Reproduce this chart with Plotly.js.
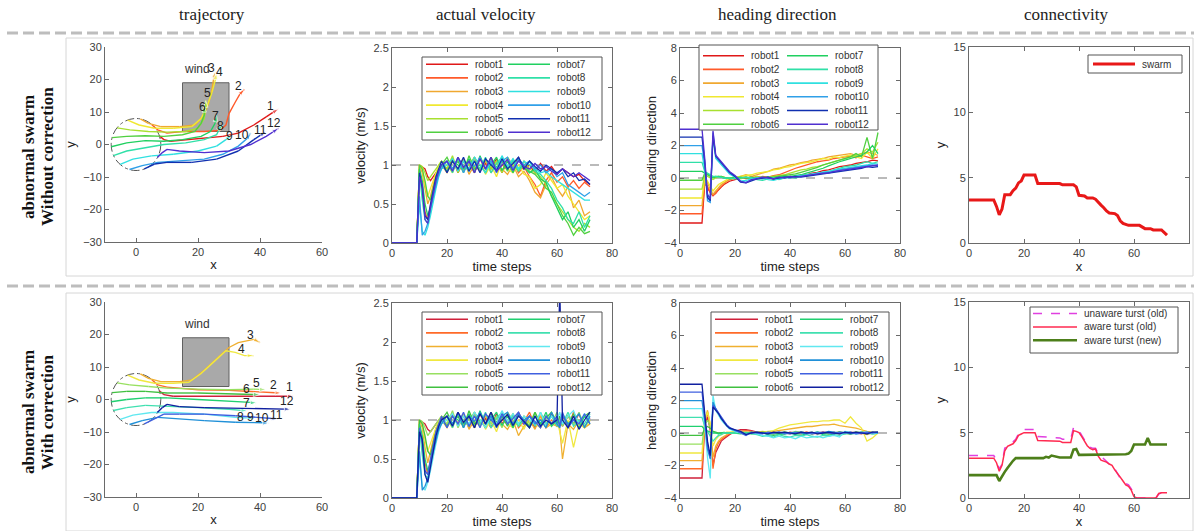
<!DOCTYPE html>
<html><head><meta charset="utf-8">
<script src="https://cdn.plot.ly/plotly-3.0.1.min.js"></script>
<style>html,body{margin:0;padding:0;background:#fff;}#chart{width:1194px;height:531px;}</style>
</head><body><div id="chart"></div>
<script>
// ---------------- DATA ----------------
const robotNames = ['robot1','robot2','robot3','robot4','robot5','robot6','robot7','robot8','robot9','robot10','robot11','robot12'];
const robotLabels = ['1','2','3','4','5','6','7','8','9','10','11','12'];
const colHeaders = ['trajectory','actual velocity','heading direction','connectivity'];
const rowHeadersLine1 = ['abnormal swarm','abnormal swarm'];
const rowHeadersLine2 = ['Without correction','With correction'];

// trajectories (without correction)
const trajTopX = [
 [7.5,9,11,16,22,28,33,38,42,46],
 [5.1,7,10,15,22,27,29,30,32,33.5,35],
 [1.4,4,8,14,19,22,23.5,24.5,25,25.5],
 [-2.7,1,6,12,18,21,23,24.5,25.5,26],
 [-6.1,-2,4,10,16,20,22,22.5,22.5],
 [-7.7,-3,3,9,15,19,21,22,22],
 [-8,-3,3,9,15,21,24,25.5,26],
 [-7.3,-3,3,9,16,22,26,27,28],
 [-5.1,-1,5,12,20,26,29,31],
 [-2.1,2,7,14,22,28,33,36,37],
 [2.7,6,10,18,26,33,38,42],
 [6.9,8.5,10,14,22,30,37,42,46]];
const trajTopY = [
 [2.7,1.5,1,1.5,2,2.5,3.5,6,8.5,11],
 [6.1,4.5,3.5,4,4,4.3,6,9.5,13,15.5,17],
 [7.9,6.5,5.5,5.5,6,9,13,17,20,22.5],
 [7.5,6,5,5,5.5,8,12,16,19.5,22],
 [5.1,4.5,4,3.8,4,5,8,11,13.5],
 [2.1,2.5,2.7,2.5,3,4,6.5,9,12],
 [-0.7,0.5,1.2,1,1.5,2.5,4,6.5,9],
 [-3.4,-2,-1,0,0.5,1.5,3,5,6],
 [-6.1,-4.5,-3.5,-3,-2,-0.5,1.5,3],
 [-7.7,-6.5,-5.5,-5,-4.5,-3,-0.5,2,3.5],
 [-7.5,-6,-5.5,-5.5,-4.5,-2,1.5,4],
 [-4,-2.5,-1.5,-2,-2.5,-2,0,2.5,5]];
const trajTopLabelX = [43.4,33,24.3,26.9,23.2,21.4,25.7,27.1,30.3,34.1,40,44.6];
const trajTopLabelY = [11.9,17.9,23.6,22.4,15.8,11.6,8.9,5.6,2.7,3.0,4.4,6.5];

// trajectories (with correction)
const trajBotX = [
 [7.5,9,12,20,30,40,48,51],
 [5.1,7,10,20,30,40,47],
 [1.4,4,8,14,18,22,26,30,33,36,38,40],
 [-2.7,1,6,12,17,21,25,29,32,35,38],
 [-6.1,-2,4,10,20,30,38,42],
 [-7.7,-3,3,10,20,30,36,40],
 [-8,-3,3,10,20,30,36,39],
 [-7.3,-3,3,10,20,30,36],
 [-5.1,-1,5,12,22,32,38],
 [-2.1,2,7,14,22,32,40,43],
 [2.7,6,9,14,22,32,40,46],
 [6.9,8.5,10,14,22,32,42,50]];
const trajBotY = [
 [2.7,1.5,1,1,0.8,0.8,1,1],
 [6.1,4.5,3.8,3,2.8,2.2,2],
 [7.9,6.5,5.5,5.5,6,9,12.5,16,17.5,18,18.5,17.5],
 [7.5,6,5,5,5.3,8,11.5,15,14.5,13.5,13.5],
 [5.1,4.5,4,3.5,3.2,3,3.2,3],
 [2.1,2.5,2.5,2,2,1.8,1.6,1.5],
 [-0.7,0,0.5,0.5,0,-0.5,-1,-1],
 [-3.4,-2.5,-1.8,-2,-2.5,-3,-3.5],
 [-6.1,-4.8,-4,-4,-4.5,-5.5,-5.8],
 [-7.7,-6.5,-5.5,-6,-6.5,-7,-7.3,-7.2],
 [-7.5,-6,-4.5,-4.5,-4.5,-5,-5.5,-6],
 [-4,-2.5,-1.5,-2.2,-2.5,-2.7,-2.8,-3]];
const trajBotLabelX = [49.6,44.4,36.8,34.1,38.8,35.5,35.5,33.6,36.8,40.6,45.3,48.6];
const trajBotLabelY = [3.8,4.4,19.8,15.4,5.0,3.2,-1.1,-5.4,-5.4,-5.8,-4.8,-0.5];

const windBoxX = [15,30];
const windBoxY = [4,19];
const windLabel = {text:'wind', x:19.6, y:20.6};
const startCircleR = 8;

// velocity (without correction)
const tVelTop = [0,9,10,11,12,13,14,15,16,17,18, 20,22,24,26,28,30,32,34,36, 38,40,42,44,46,48,50,52,54, 56,58,60,62,64,66,68,70,72];
const velTop = [
 [0,0,1.0,0.98,0.95,0.85,0.8,0.85,0.9,0.95,1.0, 0.95,1.08,0.9,1.05,0.95,1.1,0.92,1.02,0.95, 1.08,0.9,1.05,0.97,1.1,0.95,1.0,0.9,1.02, 0.92,0.98,0.88,0.95,0.9,0.85,0.88,0.8,0.75],
 [0,0,0.95,0.7,0.4,0.3,0.5,0.7,0.85,0.95,1.0, 1.05,0.92,1.1,0.95,1.02,0.9,1.08,0.95,1.1, 0.9,1.0,0.95,1.05,0.9,0.98,0.85,0.75,0.6, 0.8,0.9,0.78,0.85,0.72,0.8,0.7,0.78,0.72],
 [0,0,1.0,0.9,0.7,0.5,0.6,0.75,0.9,0.95,1.0, 0.9,1.05,0.95,1.08,0.88,1.0,0.92,1.05,0.9, 1.02,0.95,0.88,1.0,0.85,0.92,0.8,0.65,0.58, 0.75,0.85,0.7,0.6,0.72,0.45,0.55,0.35,0.4],
 [0,0,1.0,0.95,0.75,0.6,0.7,0.8,0.9,1.0,1.05, 1.0,0.9,1.1,0.92,1.05,0.95,1.1,0.88,1.0, 0.85,1.05,0.95,0.9,1.0,0.88,0.85,0.7,0.75, 0.9,0.8,0.7,0.75,0.6,0.5,0.4,0.3,0.35],
 [0,0,1.0,0.98,0.9,0.8,0.85,0.9,0.95,1.0,1.05, 0.95,1.12,0.9,1.05,1.0,1.1,0.92,1.08,0.95, 1.05,0.9,1.1,1.0,0.92,1.05,0.95,0.9,0.85, 0.75,0.6,0.5,0.4,0.3,0.2,0.15,0.25,0.2],
 [0,0,1.0,0.95,0.8,0.6,0.55,0.7,0.85,0.95,1.0, 1.1,0.95,1.05,0.9,1.12,0.95,1.0,0.9,1.1, 0.97,1.05,0.92,1.08,0.95,1.0,0.92,0.88,0.8, 0.7,0.65,0.5,0.35,0.25,0.1,0.2,0.12,0.15],
 [0,0,0.95,0.8,0.5,0.35,0.45,0.65,0.8,0.92,1.0, 0.92,1.05,1.0,0.95,1.08,0.9,1.12,0.95,1.0, 1.1,0.93,1.05,0.9,1.08,0.97,0.9,0.95,0.82, 0.78,0.6,0.45,0.3,0.4,0.2,0.3,0.15,0.3],
 [0,0,0.9,0.55,0.3,0.25,0.4,0.6,0.75,0.9,0.98, 1.05,0.9,1.08,1.0,0.92,1.05,0.95,1.1,0.9, 1.02,1.1,0.95,1.05,0.92,1.0,1.05,0.92,0.88, 0.8,0.7,0.55,0.45,0.3,0.25,0.4,0.2,0.35],
 [0,0,0.5,0.15,0.1,0.2,0.35,0.55,0.7,0.85,0.95, 1.0,1.08,0.92,1.05,0.95,1.1,1.0,0.9,1.05, 0.95,1.12,0.98,1.08,0.95,1.05,1.0,0.95,0.9, 0.92,0.85,0.8,0.75,0.7,0.65,0.6,0.55,0.55],
 [0,0,0.6,0.1,0.15,0.25,0.45,0.6,0.75,0.88,0.95, 1.05,0.95,1.1,0.9,1.05,0.98,1.1,0.95,1.05, 0.9,1.05,1.1,0.95,1.08,1.0,1.05,0.95,1.0, 0.9,0.95,0.85,0.9,0.75,0.7,0.65,0.6,0.65],
 [0,0,0.9,0.7,0.35,0.3,0.5,0.7,0.85,0.95,1.05, 0.9,1.05,0.95,1.1,0.92,1.05,0.9,1.08,1.0, 0.93,1.08,0.95,1.02,1.1,0.95,1.05,0.98,0.92, 1.0,0.95,0.9,0.95,0.85,0.9,0.8,0.82,0.75],
 [0,0,0.85,0.75,0.3,0.25,0.45,0.65,0.8,0.92,1.0, 1.05,0.92,1.1,0.97,1.05,0.9,1.08,0.95,1.1, 0.92,1.0,1.07,0.93,1.05,0.98,0.95,1.02,0.95, 0.98,0.92,0.88,0.95,0.9,0.85,0.9,0.85,0.8]];

// velocity (with correction)
const tVelBot = [0,9,10,11,12,13,14,15,16,17,18, 20,22,24,26,28,30,32,34,36, 38,40,42,44,46,48,50,52,54, 56,58,60,61,62,64,66,68,70,72];
const velBot = [
 [0,0,1.0,0.98,0.95,0.88,0.85,0.9,0.95,1.0,1.02, 0.92,1.08,0.95,1.05,0.9,1.1,0.95,1.02,0.9, 1.08,0.95,1.05,0.92,1.1,0.95,1.0,0.9,1.05, 0.92,1.08,0.95,1.0,0.92,1.05,0.95,1.08,0.9,1.02],
 [0,0,0.95,0.7,0.45,0.3,0.5,0.72,0.88,0.97,1.0, 1.05,0.92,1.1,0.95,1.02,0.9,1.08,0.95,1.1, 0.9,1.0,0.95,1.08,0.9,0.98,1.1,0.92,1.05, 0.9,1.0,0.92,0.95,1.05,0.9,1.1,0.95,1.05,0.98],
 [0,0,1.0,0.9,0.65,0.45,0.6,0.75,0.9,0.95,1.0, 0.9,1.05,0.95,1.08,0.88,1.0,0.92,1.05,0.9, 1.02,0.95,0.88,1.0,0.8,0.92,1.0,0.88,1.05, 0.9,0.95,0.92,0.9,0.5,0.95,0.88,1.0,0.9,0.95],
 [0,0,1.0,0.95,0.75,0.6,0.7,0.8,0.9,1.0,1.05, 1.0,0.9,1.1,0.92,1.05,0.95,1.1,0.88,1.0, 0.85,1.05,0.95,0.9,1.0,0.88,1.05,0.95,0.9, 1.0,0.92,1.0,0.85,0.7,1.0,0.65,0.95,0.9,1.0],
 [0,0,1.0,0.98,0.9,0.8,0.85,0.9,0.95,1.0,1.05, 0.95,1.12,0.9,1.05,1.0,1.1,0.92,1.08,0.95, 1.05,0.9,1.1,1.0,0.92,1.05,0.95,1.1,0.92, 1.05,0.95,1.1,1.0,0.92,1.05,0.95,1.1,0.92,1.0],
 [0,0,1.0,0.95,0.8,0.6,0.55,0.7,0.85,0.95,1.0, 1.1,0.95,1.05,0.9,1.12,0.95,1.0,0.9,1.1, 0.97,1.05,0.92,1.08,0.95,1.0,0.92,1.1,0.95, 1.02,1.1,0.95,1.05,1.0,0.92,1.08,0.95,1.05,1.1],
 [0,0,0.95,0.8,0.5,0.35,0.45,0.65,0.8,0.92,1.0, 0.92,1.05,1.0,0.95,1.08,0.9,1.12,0.95,1.0, 1.1,0.93,1.05,0.9,1.08,0.97,0.9,1.05,0.95, 1.1,0.92,1.0,0.95,1.08,0.95,1.0,0.9,1.05,0.95],
 [0,0,0.9,0.55,0.3,0.25,0.4,0.6,0.75,0.9,0.98, 1.05,0.9,1.08,1.0,0.92,1.05,0.95,1.1,0.9, 1.02,1.1,0.95,1.05,0.92,1.0,1.05,0.92,1.1, 0.95,1.05,0.92,1.0,0.95,1.1,0.92,1.0,0.95,1.08],
 [0,0,0.5,0.15,0.1,0.2,0.35,0.55,0.7,0.85,0.95, 1.0,1.08,0.92,1.05,0.95,1.1,1.0,0.9,1.05, 0.95,1.12,0.98,1.08,0.95,1.05,1.0,0.95,1.1, 0.92,1.05,1.0,1.1,0.95,1.05,1.12,0.95,1.08,1.0],
 [0,0,0.6,0.1,0.15,0.25,0.45,0.6,0.75,0.88,0.95, 1.05,0.95,1.1,0.9,1.05,0.98,1.1,0.95,1.05, 0.9,1.05,1.1,0.95,1.08,1.0,1.05,0.95,1.0, 0.9,1.1,0.95,0.9,1.05,0.95,1.0,1.08,0.9,1.05],
 [0,0,0.9,0.7,0.35,0.3,0.5,0.7,0.85,0.95,1.05, 0.9,1.05,0.95,1.1,0.92,1.05,0.9,1.08,1.0, 0.93,1.08,0.95,1.02,1.1,0.95,1.05,0.98,0.9, 1.05,0.95,1.05,0.92,1.1,0.9,1.0,0.95,1.08,0.95],
 [0,0,0.85,0.75,0.3,0.2,0.4,0.6,0.8,0.92,1.0, 1.05,0.92,1.1,0.97,1.05,0.9,1.08,0.95,1.1, 0.92,1.0,1.07,0.93,1.05,0.98,0.9,1.05,0.92, 1.0,0.95,1.0,2.7,1.0,0.9,1.05,0.88,1.0,1.1]];
const velRef = 1;

// heading direction
const tHead = [0,8,9,10,11,12,13,14,15,16,17,18, 20,22,24,26,28,30,32,34,36, 38,40,42,44,46,48,50,52,54, 56,58,60,62,64,66,68,70,72];
const headTop = [
 [-2.77,-2.77,-0.3,-0.6,-0.9,-1.1,-0.9,-0.7,-0.55,-0.4,-0.3,-0.2, -0.1,0,0.05,-0.05,0.1,0,0.05,-0.1,0.05, 0,0.1,0.05,0.15,0.2,0.3,0.35,0.45,0.5, 0.6,0.7,0.75,0.8,0.9,0.95,1.0,1.1,1.05],
 [-2.2,-2.2,-0.2,-0.5,-0.85,-1.05,-0.95,-0.7,-0.5,-0.35,-0.2,-0.1, 0,0.05,-0.05,0.1,0,0.1,0.05,0.15,0.2, 0.35,0.5,0.6,0.7,0.8,0.9,1.0,1.05,1.1, 1.2,1.25,1.3,1.35,1.25,1.4,1.3,1.2,1.3],
 [-1.7,-1.7,0,-0.3,-0.7,-1.0,-0.8,-0.6,-0.4,-0.3,-0.2,-0.1, 0,0.1,0.2,0.1,0.2,0.3,0.4,0.55,0.6, 0.7,0.8,0.85,0.95,1.0,1.1,1.15,1.2,1.3, 1.35,1.4,1.45,1.5,1.4,1.5,1.6,1.5,1.4],
 [-1.23,-1.23,0.1,-0.2,-0.5,-0.8,-0.6,-0.4,-0.3,-0.2,-0.1,0, 0.05,0.1,0.15,0.2,0.3,0.35,0.4,0.5,0.55, 0.65,0.7,0.8,0.9,0.95,1.0,1.1,1.2,1.15, 1.3,1.25,1.35,1.4,1.3,1.2,1.6,1.2,1.8],
 [-0.68,-0.68,0.2,0.1,0,-0.1,0,0.05,0.1,0.05,0,0, 0,-0.05,0.05,0,0.1,0,0.05,0.1,0.15, 0.2,0.3,0.4,0.5,0.55,0.65,0.7,0.8,0.9, 1.0,1.1,1.2,1.3,1.4,1.5,1.8,1.6,2.2],
 [-0.14,-0.14,0.3,0.2,0.1,0,0.05,0.1,0.1,0.05,0,0, 0.05,0,0.05,-0.05,0,0.05,0,0.05,0.1, 0.15,0.2,0.25,0.35,0.45,0.55,0.65,0.8,0.9, 1.0,1.1,1.2,1.3,1.5,1.3,2.5,1.2,2.8],
 [0.41,0.41,0.3,0.25,0.15,0.05,0.1,0.1,0.05,0,0,-0.05, 0,0.05,0,0.05,-0.05,0,0.05,0,0.05, 0.1,0.1,0.15,0.2,0.3,0.4,0.5,0.6,0.75, 0.9,1.0,1.1,1.2,1.3,1.4,1.6,2.0,1.5],
 [0.96,0.96,0.4,0.3,0.2,0.1,0.1,0.05,0.05,0,0,0, -0.05,0,0.05,0,-0.1,-0.15,-0.05,0,-0.1, 0,0.05,0,0.1,0.15,0.2,0.3,0.35,0.4, 0.5,0.6,0.7,0.75,0.8,0.9,1.0,0.9,1.0],
 [1.5,1.5,0.5,-1.0,-1.3,2.5,1.2,1.0,0.8,0.6,0.4,0.25, 0.05,-0.2,-0.15,-0.05,0,0.05,-0.1,-0.15,-0.05, 0,0.05,0.1,0.15,0.2,0.25,0.3,0.35,0.4, 0.5,0.55,0.6,0.65,0.7,0.75,0.8,0.9,0.85],
 [1.99,1.99,0.8,-1.4,-1.5,2.8,1.3,1.1,0.85,0.65,0.45,0.3, 0.1,-0.2,-0.25,-0.1,0,-0.05,0.05,-0.05,0, 0.05,0,0.1,0.1,0.15,0.2,0.25,0.3,0.35, 0.4,0.5,0.55,0.6,0.65,0.7,0.75,0.8,0.75],
 [2.52,2.52,1.0,-1.2,-1.4,2.6,1.35,1.15,0.9,0.7,0.5,0.35, 0.1,-0.25,-0.3,-0.15,-0.05,0,0.05,-0.05,0, 0.05,0.05,0.1,0.05,0.1,0.15,0.2,0.25,0.3, 0.35,0.4,0.45,0.5,0.55,0.6,0.7,0.65,0.7],
 [3.0,3.0,1.2,-1.0,-1.3,2.9,1.4,1.2,0.95,0.75,0.55,0.4, 0.15,-0.2,-0.3,-0.1,-0.05,0.05,0,-0.05,0.05, 0,0.1,0.05,0.1,0.15,0.2,0.25,0.3,0.3, 0.4,0.45,0.5,0.55,0.6,0.65,0.7,0.75,0.8]];
const headBot = [
 [-2.77,-2.77,0.5,1.0,0.2,-2.0,-1.2,-0.8,-0.5,-0.35,-0.2,-0.1, 0.1,0.2,0.2,0.15,0.05,0,-0.05,0.05,0, -0.05,0.05,0,-0.05,0.05,0,-0.05,0.05,0, 0.05,-0.05,0,0.05,0,-0.05,0.05,0,0.05],
 [-2.2,-2.2,0.6,1.3,0.3,-2.2,-1.0,-0.6,-0.4,-0.25,-0.15,-0.05, 0.05,0.1,0.15,0.1,0,0.05,0,-0.05,0.05, 0,-0.05,0.05,0,0.05,-0.05,0,0.05,-0.05, 0,0.05,0,-0.05,0.05,0,-0.1,0.05,0],
 [-1.7,-1.7,0.7,1.4,0.5,-1.5,-0.8,-0.5,-0.3,-0.2,-0.1,0, 0.05,0.1,0.05,0,0.05,0.1,0.05,0.1,0.15, 0.2,0.25,0.3,0.35,0.4,0.4,0.45,0.5,0.5, 0.55,0.45,0.4,0.35,0.3,0.2,0.1,0.05,0],
 [-1.23,-1.23,0.8,1.3,0.6,-0.8,-0.4,-0.2,-0.1,0,0.05,0.05, 0.1,0.05,0,0.05,0,0.05,0.1,0.15,0.3, 0.4,0.5,0.55,0.6,0.65,0.7,0.7,0.75,0.75, 0.8,0.8,0.6,1.0,0.6,0.3,-0.5,-0.3,0],
 [-0.68,-0.68,0.5,0.8,0.4,0.1,0,-0.05,0,0.05,0,0, 0.05,0,0.05,0,-0.05,0,0.05,0,-0.05, 0.05,0,0.1,0.05,0,0.05,-0.05,0,0.05, 0,0.05,-0.05,0,0.05,0,0.05,0,0.05],
 [-0.14,-0.14,0.3,0.4,0.3,0.1,0.05,0,0,0,0,0, 0,0.05,0,-0.05,0,0.05,0,-0.05,0, 0.05,0,-0.05,0.05,0,-0.05,0.05,0,-0.05, 0,0.05,0,-0.05,0,0.05,0,-0.05,0],
 [0.41,0.41,0.2,0.1,0.05,0,0,-0.05,0,0,0,0, 0,-0.05,0,0.05,-0.05,0,-0.1,-0.15,-0.1, -0.05,0,-0.1,-0.15,-0.05,0,0.05,-0.1,-0.15, -0.05,0.05,0,-0.05,0.05,0,-0.05,0,0.05],
 [0.96,0.96,0.4,0.1,-0.2,-0.5,-0.3,-0.15,-0.1,0,0,0, 0,0.05,0,-0.05,-0.1,-0.2,-0.15,-0.25,-0.1, -0.2,-0.25,-0.15,-0.2,-0.1,-0.2,-0.25,-0.15,-0.2, -0.1,-0.15,-0.05,0,-0.05,0,0.05,-0.05,0],
 [1.5,1.5,0.5,-1.5,-2.8,2.3,1.4,1.1,0.8,0.6,0.4,0.25, 0.1,0,-0.1,0,-0.05,-0.15,-0.2,-0.3,-0.2, -0.3,-0.25,-0.35,-0.2,-0.3,-0.25,-0.2,-0.3,-0.2, -0.15,-0.25,0.1,0.05,-0.05,0,0.05,-0.05,0],
 [1.99,1.99,0.8,-1.0,-1.6,1.9,1.5,1.2,0.9,0.7,0.5,0.3, 0.15,0.05,-0.1,0,0.05,0,-0.05,0,0.05, -0.05,0,0.05,0,-0.05,0,0.05,0,0.1, 0.05,0,0.05,-0.05,0,0.05,0,0.05,0],
 [2.52,2.52,1.0,-0.8,-1.5,1.7,1.5,1.25,0.95,0.7,0.5,0.35, 0.15,0,-0.15,0.05,0,-0.05,0.05,0,0.05, 0,-0.05,0,0.05,0,-0.05,0,0.05,0, -0.05,0.05,0,0.05,-0.05,0,0.05,0,0.05],
 [3.0,3.0,1.2,-0.5,-1.4,1.6,1.4,1.2,0.9,0.65,0.45,0.3, 0.2,0.1,-0.1,0,0.05,0,-0.05,0.05,0, 0.05,0,-0.05,0.05,0,0.05,-0.05,0,0.05, 0,-0.05,0.05,0,0.05,0,-0.05,0.05,0.05]];
const headRef = 0;

// connectivity
const connTopName = 'swarm';
const connTopX = [0,9,10,11,12,13,15,16,17,18,19,20,24,25,33,34,38,39,40,41,42,43,45,46,47,48,49,50,51,53,54,55,56,57,58,62,63,64,66,67,70,71,72];
const connTopY = [3.3,3.3,2.8,2.15,2.6,3.7,3.7,4.0,4.2,4.6,4.75,5.2,5.2,4.55,4.55,4.45,4.45,4.3,3.65,3.65,3.6,3.45,3.45,3.35,3.1,2.9,2.7,2.45,2.3,2.25,2.1,1.7,1.5,1.45,1.35,1.35,1.2,1.1,1.1,1.0,1.0,0.8,0.6];
const connBotNames = ['unaware turst (old)','aware turst (old)','aware turst (new)'];
const connBotOldX = [0,9,10,11,12,13,14,15,16,17,18,19,20,24,25,33,34,37,38,39,40,41,42,43,44,45,46,47,48,49,50,51,52,53,54,55,56,57,58,59,60,61,68,69,70,72];
const connBotUnawareY = [3.25,3.25,2.9,2.2,2.6,3.8,4.1,4.2,4.3,4.5,4.9,5.0,5.25,5.25,4.7,4.6,4.5,4.5,5.4,5.2,5.15,4.8,4.4,4.1,3.9,3.8,3.8,3.4,3.2,3.0,2.8,2.6,2.6,2.2,1.8,1.5,1.3,1.1,1.0,0.7,0.3,0,0,0.3,0.4,0.4];
const connBotAwareOldY = [3.05,3.05,2.7,2.05,2.5,3.6,3.95,4.05,4.15,4.4,4.8,4.9,5.0,5.0,4.4,4.35,4.25,4.25,5.15,5.1,5.0,4.7,4.3,4.0,3.8,3.7,3.75,3.2,2.9,2.85,2.75,2.6,2.5,2.15,1.9,1.6,1.3,1.0,0.9,0.6,0.1,0,0,0.35,0.4,0.4];
const connBotNewX = [0,10,11,12,13,14,15,16,17,27,28,29,30,31,32,33,37,38,39,40,41,46,47,57,58,59,60,64,65,66,72];
const connBotNewY = [1.75,1.75,1.3,1.7,2.0,2.3,2.6,2.85,3.05,3.05,3.15,3.1,3.25,3.2,3.1,3.1,3.1,3.7,3.75,3.3,3.3,3.3,3.35,3.35,3.4,3.6,4.1,4.1,4.6,4.1,4.1];

// ---------------- STYLE / LAYOUT ----------------
const colorsTop = ['#e01818','#ff5a2a','#f0a830','#f0e830','#a8e030','#50d040','#20d060','#30e0a8','#30e0e0','#30a0e8','#1030b0','#5030d0'];
const colorsBot = ['#d0203a','#ff6a28','#f0b030','#f0e840','#98e060','#40c040','#20d070','#40e0b0','#60e8f0','#2090d8','#4060e0','#1020a0'];
const W = 1194, H = 531;
const PX = v => v / W, PY = v => 1 - v / H;
const boxes = {
  1:[105,322,47,242], 2:[392,612,48,243], 3:[680,900,48,243], 4:[969,1189,47,243],
  5:[105,322,302,497], 6:[392,612,303,498], 7:[680,900,303,498], 8:[969,1189,302,498]};

const traces = [];
const shapes = [];
const annotations = [];

function suffix(n){ return n === 1 ? '' : String(n); }

function addTrajectories(n, xs, ys, colors, lx, ly){
  const xa = 'x' + suffix(n), ya = 'y' + suffix(n);
  shapes.push({type:'circle', xref:xa, yref:ya, x0:-startCircleR, x1:startCircleR, y0:-startCircleR, y1:startCircleR,
    line:{color:'#555', width:1, dash:'dashdot'}, layer:'below'});
  shapes.push({type:'rect', xref:xa, yref:ya, x0:windBoxX[0], x1:windBoxX[1], y0:windBoxY[0], y1:windBoxY[1],
    fillcolor:'#a9a9a9', line:{color:'#606060', width:1}, layer:'below'});
  annotations.push({xref:xa, yref:ya, x:windLabel.x, y:windLabel.y, text:windLabel.text, showarrow:false,
    font:{size:12, color:'#333'}, xanchor:'center', yanchor:'bottom'});
  xs.forEach((x, i) => {
    traces.push({x:x, y:ys[i], xaxis:xa, yaxis:ya, mode:'lines+markers', name:robotNames[i], showlegend:false,
      hoverinfo:'skip', line:{color:colors[i], width:1.4},
      marker:{symbol:'arrow', angleref:'previous', color:colors[i], size:x.map((_, k) => k === x.length - 1 ? 7 : 0)}});
    annotations.push({xref:xa, yref:ya, x:lx[i], y:ly[i], text:robotLabels[i], showarrow:false,
      xanchor:'center', yanchor:'middle', font:{size:12, color:'#222'}});
  });
}

function addSeries(n, t, ys, colors, refVal){
  const xa = 'x' + suffix(n), ya = 'y' + suffix(n);
  shapes.push({type:'line', xref:xa + ' domain', yref:ya, x0:0, x1:1, y0:refVal, y1:refVal,
    line:{color:'#777', width:1.2, dash:'dash'}, layer:'below'});
  ys.forEach((y, i) => {
    traces.push({x:t, y:y, xaxis:xa, yaxis:ya, mode:'lines', name:robotNames[i], showlegend:false,
      hoverinfo:'skip', line:{color:colors[i], width:1.3}});
  });
}

function addLegend(box, entries, rowsPerCol, row0, dy, sampleX, sampleLen){
  shapes.push({type:'rect', xref:'paper', yref:'paper', x0:PX(box[0]), x1:PX(box[2]), y0:PY(box[3]), y1:PY(box[1]),
    line:{color:'#555', width:1}, fillcolor:'#ffffff', layer:'above'});
  entries.forEach((e, i) => {
    const c = Math.floor(i / rowsPerCol), r = i % rowsPerCol;
    const y = row0 + r * dy, x0 = sampleX[c];
    shapes.push({type:'line', xref:'paper', yref:'paper', x0:PX(x0), x1:PX(x0 + sampleLen), y0:PY(y), y1:PY(y),
      line:{color:e.color, width:e.width, dash:e.dash || 'solid'}, layer:'above'});
    annotations.push({xref:'paper', yref:'paper', x:PX(x0 + sampleLen + 5), y:PY(y), xanchor:'left', yanchor:'middle',
      text:e.name, showarrow:false, font:{size:10, color:'#333'}});
  });
}

addTrajectories(1, trajTopX, trajTopY, colorsTop, trajTopLabelX, trajTopLabelY);
addSeries(2, tVelTop, velTop, colorsTop, velRef);
addSeries(3, tHead, headTop, colorsTop, headRef);
traces.push({x:connTopX, y:connTopY, xaxis:'x4', yaxis:'y4', mode:'lines', name:connTopName, showlegend:false,
  hoverinfo:'skip', line:{color:'#e81818', width:3}});
addTrajectories(5, trajBotX, trajBotY, colorsBot, trajBotLabelX, trajBotLabelY);
addSeries(6, tVelBot, velBot, colorsBot, velRef);
addSeries(7, tHead, headBot, colorsBot, headRef);
const connBotStyles = [
  {color:'#e040e0', width:1.5, dash:'dash'},
  {color:'#ff2a50', width:1.5},
  {color:'#4d7f1a', width:2.6}];
const connBotYs = [connBotUnawareY, connBotAwareOldY, connBotNewY];
const connBotXs = [connBotOldX, connBotOldX, connBotNewX];
connBotYs.forEach((y, i) => {
  traces.push({x:connBotXs[i], y:y, xaxis:'x8', yaxis:'y8', mode:'lines', name:connBotNames[i], showlegend:false,
    hoverinfo:'skip', line:connBotStyles[i]});
});

const robotEntries = cols => robotNames.map((nm, i) => ({name:nm, color:cols[i], width:1.6}));
addLegend([422,57,602,140], robotEntries(colorsTop), 6, 64.3, 13.6, [426,508], 42);
addLegend([699,45,878,130], robotEntries(colorsTop), 6, 55.7, 13.7, [703,787], 41);
addLegend([1088,55,1182,73], [{name:connTopName, color:'#e81818', width:3}], 1, 64, 13, [1093], 42);
addLegend([422,312,602,395], robotEntries(colorsBot), 6, 319.3, 13.6, [426,508], 42);
addLegend([711,312,889,395], robotEntries(colorsBot), 6, 319.3, 13.6, [715,800], 43);
addLegend([1030,307,1178,353], connBotNames.map((nm, i) => ({name:nm, color:connBotStyles[i].color,
  width:connBotStyles[i].width, dash:connBotStyles[i].dash})), 3, 313.5, 13.4, [1033], 44);

const headerX = [212, 486, 777, 1066];
const serif = 'Liberation Serif, Times New Roman, serif';
colHeaders.forEach((h, i) => annotations.push({xref:'paper', yref:'paper', x:PX(headerX[i]), y:PY(15), text:h,
  xanchor:'center', yanchor:'middle', showarrow:false, font:{family:serif, size:17, color:'#222'}}));
const rowLabelY = [157, 412];
rowLabelY.forEach((y, i) => {
  annotations.push({xref:'paper', yref:'paper', x:PX(28), y:PY(y), text:'<b>' + rowHeadersLine1[i] + '</b>',
    xanchor:'center', yanchor:'middle', textangle:-90, showarrow:false, font:{family:serif, size:17, color:'#111'}});
  annotations.push({xref:'paper', yref:'paper', x:PX(47), y:PY(y), text:'<b>' + rowHeadersLine2[i] + '</b>',
    xanchor:'center', yanchor:'middle', textangle:-90, showarrow:false, font:{family:serif, size:17, color:'#111'}});
});
[33, 286].forEach(y => shapes.push({type:'line', xref:'paper', yref:'paper', x0:PX(7), x1:1, y0:PY(y), y1:PY(y),
  line:{color:'#bdbdbd', width:3, dash:'11px,5px'}, layer:'below'}));
[[38,276],[293,531]].forEach(r => shapes.push({type:'rect', xref:'paper', yref:'paper', x0:PX(66), x1:PX(1193),
  y0:PY(r[1]), y1:PY(r[0]), line:{color:'#d6d6d6', width:1}, layer:'below'}));

const tickFont = {family:'Liberation Sans, Arial, sans-serif', size:11, color:'#404040'};
const titleFont = {family:'Liberation Sans, Arial, sans-serif', size:13, color:'#222'};
const layout = {width:W, height:H, margin:{l:0, r:0, t:0, b:0}, paper_bgcolor:'#ffffff', plot_bgcolor:'#ffffff',
  showlegend:false, font:{family:'Liberation Sans, Arial, sans-serif', color:'#333'}, shapes:shapes, annotations:annotations};
function mkAxes(n, xr, xd, yr, yd, xt, yt, boxed){
  const b = boxes[n];
  const common = {showgrid:false, zeroline:false, showline:true, linecolor:'#6a6a6a', linewidth:1,
    ticks:'inside', ticklen:4, tickcolor:'#6a6a6a', tickfont:tickFont, mirror:boxed ? 'ticks' : false, fixedrange:true};
  layout['xaxis' + suffix(n)] = Object.assign({}, common, {domain:[PX(b[0]), PX(b[1])], range:xr, tick0:0, dtick:xd,
    anchor:'y' + suffix(n), title:{text:xt, font:titleFont, standoff:2}});
  layout['yaxis' + suffix(n)] = Object.assign({}, common, {domain:[PY(b[3]), PY(b[2])], range:yr, tick0:0, dtick:yd,
    anchor:'x' + suffix(n), title:{text:yt, font:titleFont, standoff:4}});
}
mkAxes(1, [-10,60], 20, [-30,30], 10, 'x', 'y', false);
mkAxes(2, [0,80], 20, [0,2.5], 0.5, 'time steps', 'velocity (m/s)', true);
mkAxes(3, [0,80], 20, [-4,8], 2, 'time steps', 'heading direction', true);
mkAxes(4, [0,80], 20, [0,15], 5, 'x', 'y', true);
mkAxes(5, [-10,60], 20, [-30,30], 10, 'x', 'y', false);
mkAxes(6, [0,80], 20, [0,2.5], 0.5, 'time steps', 'velocity (m/s)', true);
mkAxes(7, [0,80], 20, [-4,8], 2, 'time steps', 'heading direction', true);
mkAxes(8, [0,80], 20, [0,15], 5, 'x', 'y', true);

Plotly.newPlot('chart', traces, layout, {displayModeBar:false, staticPlot:true});
</script></body></html>
